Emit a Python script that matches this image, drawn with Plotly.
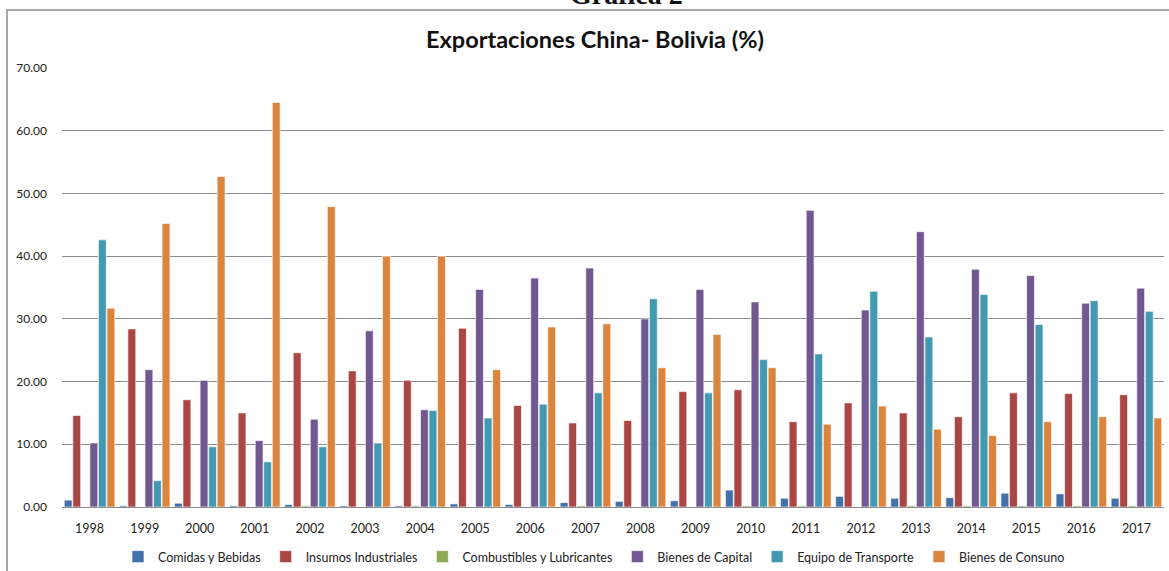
import plotly.graph_objects as go

years = [str(y) for y in range(1998, 2018)]

comidas = [1.1, 0.2, 0.6, 0.2, 0.4, 0.2, 0.2, 0.5, 0.4, 0.7, 0.9, 1.0, 2.7, 1.4, 1.7, 1.4, 1.5, 2.2, 2.1, 1.4]
insumos = [14.6, 28.4, 17.1, 15.0, 24.6, 21.7, 20.2, 28.5, 16.2, 13.4, 13.8, 18.4, 18.7, 13.6, 16.6, 15.0, 14.4, 18.2, 18.1, 17.9]
combustibles = [0.0, 0.0, 0.0, 0.0, 0.2, 0.0, 0.2, 0.0, 0.0, 0.2, 0.0, 0.0, 0.2, 0.2, 0.0, 0.2, 0.2, 0.2, 0.2, 0.2]
capital = [10.2, 21.9, 20.2, 10.6, 14.0, 28.1, 15.5, 34.7, 36.5, 38.1, 30.0, 34.7, 32.7, 47.3, 31.4, 43.9, 37.9, 36.9, 32.5, 34.9]
transporte = [42.6, 4.2, 9.6, 7.2, 9.6, 10.2, 15.4, 14.2, 16.4, 18.2, 33.2, 18.2, 23.5, 24.4, 34.4, 27.1, 33.9, 29.1, 32.9, 31.2]
consumo = [31.7, 45.2, 52.7, 64.5, 47.9, 40.0, 40.0, 21.9, 28.7, 29.2, 22.2, 27.5, 22.2, 13.2, 16.1, 12.4, 11.4, 13.6, 14.4, 14.2]

series_names = ["Comidas y Bebidas", "Insumos Industriales", "Combustibles y Lubricantes",
                "Bienes de Capital", "Equipo de Transporte", "Bienes de Consuno"]
series_values = [comidas, insumos, combustibles, capital, transporte, consumo]
colors = ["#4170AA", "#AA4644", "#8DAA56", "#725890", "#4299B1", "#DB843D"]

fig = go.Figure()
for name, vals, col in zip(series_names, series_values, colors):
    fig.add_trace(go.Bar(
        x=years, y=vals, name=name,
        marker=dict(color=col, line=dict(color="rgba(255,255,255,0.8)", width=0.8)),
    ))

W, H = 1169, 571
L, R, T, B = 62, 5, 68, 64
pw = W - L - R
ph = H - T - B

def px_x(x):
    return (x - L) / pw

def px_y(y):
    return (H - B - y) / ph

font_main = "Lato, sans-serif"

fig.update_layout(
    width=W, height=H,
    margin=dict(l=L, r=R, t=T, b=B, autoexpand=False),
    paper_bgcolor="white", plot_bgcolor="white",
    barmode="group", bargap=0.07, bargroupgap=0.08,
    font=dict(family=font_main, color="#222222"),
    showlegend=True,
    legend=dict(orientation="h", xref="container", yref="container",
                x=594 / W, xanchor="center", y=1 - 557 / H, yanchor="middle",
                font=dict(size=12.5, family=font_main, color="#222222"),
                itemwidth=30, tracegroupgap=0, traceorder="normal"),
    xaxis=dict(type="category", showgrid=False, showline=True, linecolor="#8C8C8C", linewidth=1,
               ticks="", tickfont=dict(size=12.5, family=font_main, color="#222222"),
               ticklabelstandoff=10),
    yaxis=dict(range=[0, 70], tickvals=[0, 10, 20, 30, 40, 50, 60, 70], tickformat=".2f",
               showgrid=True, gridcolor="#8C8C8C", gridwidth=1, zeroline=False, showline=False,
               tickfont=dict(size=12, family=font_main, color="#222222"),
               ticks="", ticklabelstandoff=14),
    shapes=[dict(type="rect", xref="paper", yref="paper",
                 x0=px_x(7), x1=px_x(1175), y0=px_y(580), y1=px_y(10),
                 line=dict(color="#8C8C8C", width=1.5), fillcolor="rgba(0,0,0,0)", layer="below")],
    annotations=[
        dict(text="<b>Exportaciones China- Bolivia (%)</b>", xref="paper", yref="paper",
             x=px_x(595), y=px_y(39), xanchor="center", yanchor="middle", showarrow=False,
             font=dict(size=23.5, family=font_main, color="#111111")),
        dict(text="<b>Gráfica 2</b>", xref="paper", yref="paper",
             x=px_x(626), y=px_y(12), xanchor="center", yanchor="bottom", showarrow=False,
             font=dict(size=28, family="Liberation Serif, Times New Roman, serif", color="#111111")),
    ],
)

fig.write_html("out.html")
